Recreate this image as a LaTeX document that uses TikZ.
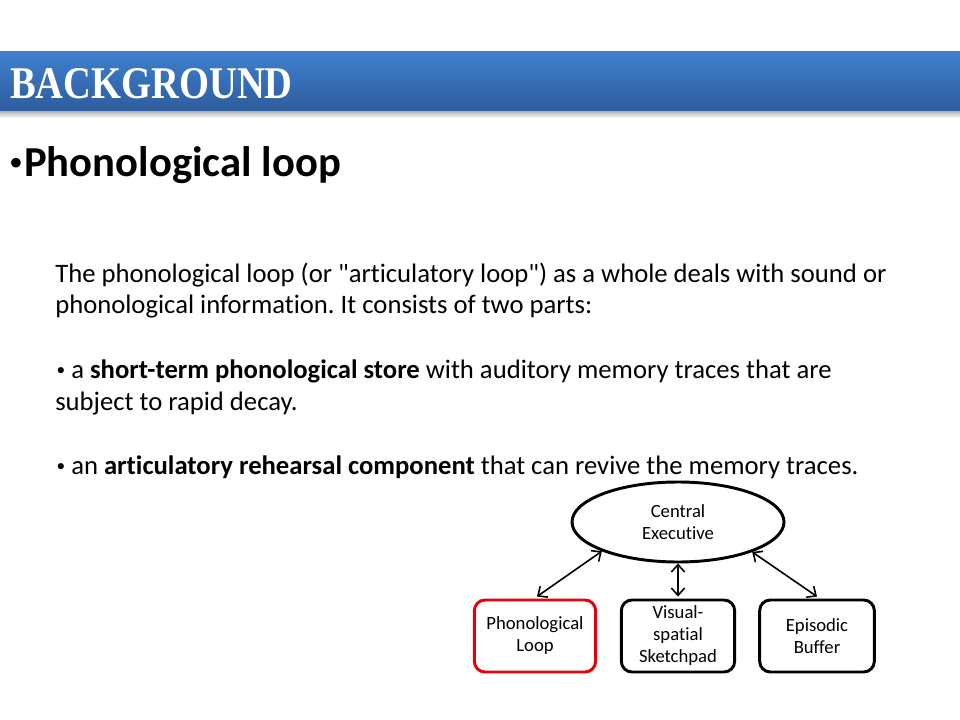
\documentclass[tikz,border=0pt]{standalone}
\usepackage{fontspec}
\setmainfont[Ligatures={NoCommon,TeXOff}]{Carlito}
\newfontfamily\headfont{Liberation Serif}
\usetikzlibrary{shapes.geometric,arrows.meta}
\definecolor{hdtop}{RGB}{62,128,206}
\definecolor{hdbot}{RGB}{46,92,156}
\definecolor{boxred}{RGB}{226,0,10}
\newcommand{\smbul}{\hspace*{1pt}{\fontsize{13}{13}\selectfont\raisebox{0.3ex}{•}}}
\frenchspacing
\begin{document}
\begin{tikzpicture}[x=0.75pt,y=-0.75pt,
  bodytext/.style={anchor=base west,inner sep=0,font=\fontsize{20}{24}\selectfont},
  compbox/.style={draw=black,line width=2.2pt,rounded corners=8pt,minimum height=54pt,align=center,inner sep=0,font=\fontsize{14}{16.5}\selectfont},
  link/.style={{Straight Barb[length=5.5pt,width=10pt]}-{Straight Barb[length=5.5pt,width=10pt]},line width=1.2pt}]
\useasboundingbox (0,0) rectangle (960,720);
\fill[white] (0,0) rectangle (960,720);
\shade[top color=black!30,bottom color=white] (0,111) rectangle (960,118);
\shade[top color=hdtop,bottom color=hdbot] (0,52) rectangle (960,111);
\node[anchor=base west,text=white,inner sep=0,xscale=0.85,font=\headfont\bfseries\fontsize{34}{40}\selectfont] (head) at (10,99) {BACKGROUND};
\node[anchor=base west,inner sep=0,font=\bfseries\fontsize{17}{17}\selectfont] (bul) at (10,170) {•};
\node[anchor=base west,inner sep=0,font=\bfseries\fontsize{32}{38}\selectfont] (title) at (24,177) {Phonological loop};
\node[bodytext] (l1) at (55,282) {The phonological loop (or "articulatory loop") as a whole deals with sound or};
\node[bodytext] (l2) at (55,314) {phonological information. It consists of two parts:};
\node[bodytext] (l3) at (55,378) {\smbul{} a \textbf{short-term phonological store} with auditory memory traces that are};
\node[bodytext] (l4) at (55,410) {subject to rapid decay.};
\node[bodytext] (l5) at (55,474) {\smbul{} an \textbf{articulatory rehearsal component} that can revive the memory traces.};
\node[draw=black,line width=2.2pt,ellipse,minimum width=159pt,minimum height=60pt,inner sep=0,align=center,font=\fontsize{14}{16.5}\selectfont] (ce) at (678,522) {Central\\Executive};
\node[compbox,draw=boxred,minimum width=91pt] (pl) at (535,636) {Phonological\\Loop};
\node[compbox,minimum width=85pt] (vs) at (678,636) {Visual-\\spatial\\Sketchpad};
\node[compbox,minimum width=86pt] (eb) at (817,636) {Episodic\\Buffer};
\draw[link] (ce.201) -- ([xshift=1.5pt,yshift=1.5pt]pl.north);
\draw[link] (ce.south) -- ([yshift=1.5pt]vs.north);
\draw[link] (ce.338) -- ([yshift=1.5pt]eb.north);
\end{tikzpicture}
\end{document}
